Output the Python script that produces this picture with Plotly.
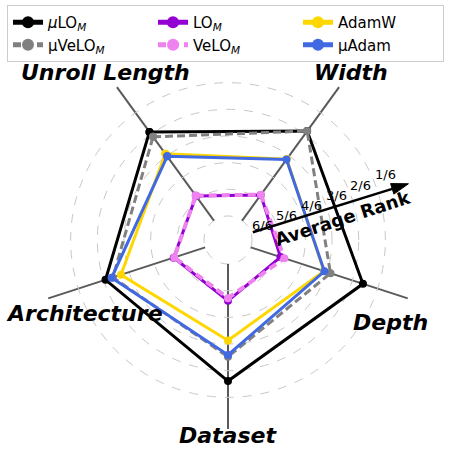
import math
import plotly.graph_objects as go

# ---- data (average rank, 1 = best) ----
categories = ["Unroll Length", "Width", "Depth", "Dataset", "Architecture"]
series_names = ["<i>μ</i>LO<sub><i>M</i></sub>", "μVeLO<sub><i>M</i></sub>", "LO<sub><i>M</i></sub>",
                "VeLO<sub><i>M</i></sub>", "AdamW", "μAdam"]
mu_lo = [1.89, 1.85, 1.58, 1.61, 2.07]
mu_velo = [2.12, 1.85, 2.86, 2.52, 2.36]
lo = [4.86, 4.81, 4.83, 4.62, 4.76]
velo = [4.84, 4.80, 4.68, 4.72, 4.78]
adamw = [2.90, 3.15, 3.12, 3.13, 2.68]
mu_adam = [3.02, 3.17, 3.10, 2.59, 2.31]
rank_ticks = [6, 5, 4, 3, 2, 1]
rank_labels = ["6/6", "5/6", "4/6", "3/6", "2/6", "1/6"]

# ---- geometry (pixels) ----
W, H = 454, 462
CX, CY = 228, 240
R_HOLE, STEP, R_OUT = 24, 26.67, 189
R_MAX = 1 + (R_OUT - R_HOLE) / STEP


def to_r(rank):
    return 7 - rank


def paper(x, y):
    return x / W, 1 - y / H


def polar_px(angle_deg, r_px):
    a = math.radians(angle_deg)
    return CX + r_px * math.cos(a), CY - r_px * math.sin(a)


styles = [
    dict(color="black", width=3, dash="solid", rank=1),
    dict(color="gray", width=3, dash="8px,4px", rank=4),
    dict(color="#9400D3", width=3, dash="solid", rank=2),
    dict(color="violet", width=4, dash="8px,5px", rank=5),
    dict(color="gold", width=3, dash="solid", rank=3),
    dict(color="royalblue", width=3, dash="solid", rank=6),
]
values = [mu_lo, mu_velo, lo, velo, adamw, mu_adam]

fig = go.Figure()
for name, vals, st in zip(series_names, values, styles):
    fig.add_trace(go.Scatterpolar(
        r=[to_r(v) for v in vals + vals[:1]],
        theta=categories + categories[:1],
        mode="lines+markers",
        name=name,
        legendrank=st["rank"],
        line=dict(color=st["color"], width=st["width"], dash=st["dash"]),
        marker=dict(color=st["color"], size=8),
    ))


def label(x_px, y_px, text, size, angle=0):
    x, y = paper(x_px, y_px)
    return dict(x=x, y=y, xref="paper", yref="paper", xanchor="center", yanchor="middle",
                text=text, showarrow=False, textangle=angle, font=dict(size=size, color="black"))


# ---- rank tick labels along 22.5 deg ----
annotations = []
for t, lab in zip(rank_ticks, rank_labels):
    r_px = R_HOLE + (to_r(t) - 1) * STEP + 13
    annotations.append(label(*polar_px(22.5, r_px), lab, 13))

# axis titles
label_pos = {"Unroll Length": (105, 72), "Width": (351, 72), "Depth": (390, 322),
             "Dataset": (228, 435), "Architecture": (84, 313)}
for cat in categories:
    annotations.append(label(*label_pos[cat], "<b><i>%s</i></b>" % cat, 22))

annotations.append(label(342, 218, "<b>Average Rank</b>", 18, -18))

# ---- arrow ----
ang = 17.3
x0, y0 = polar_px(ang, 26)
x1, y1 = polar_px(ang, 172)
xt, yt = polar_px(ang, 189)
a = math.radians(ang)
nx, ny = math.sin(a) * 5.5, math.cos(a) * 5.5
p0 = paper(x0, y0)
p1 = paper(x1, y1)
hx0, hy0 = paper(CX - R_HOLE, CY + R_HOLE)
hx1, hy1 = paper(CX + R_HOLE, CY - R_HOLE)
shapes = [
    dict(type="circle", xref="paper", yref="paper", x0=hx0, y0=hy0, x1=hx1, y1=hy1,
         line=dict(color="#c8c8c8", width=1, dash="dash"), layer="below"),
    dict(type="line", xref="paper", yref="paper", x0=p0[0], y0=p0[1], x1=p1[0], y1=p1[1],
         line=dict(color="black", width=2.5)),
    dict(type="path", xref="paper", yref="paper",
         path="M %f,%f L %f,%f L %f,%f Z" % (*paper(xt, yt), *paper(x1 + nx, y1 + ny), *paper(x1 - nx, y1 - ny)),
         fillcolor="black", line=dict(color="black", width=1)),
]

dx0, dy0 = paper(CX - R_OUT, CY + R_OUT)
dx1, dy1 = paper(CX + R_OUT, CY - R_OUT)

fig.update_layout(
    width=W, height=H,
    margin=dict(l=0, r=0, t=0, b=0, autoexpand=False),
    paper_bgcolor="white",
    font=dict(family="DejaVu Sans", color="black"),
    polar=dict(
        domain=dict(x=[dx0, dx1], y=[dy0, dy1]),
        hole=R_HOLE / R_OUT,
        bgcolor="rgba(0,0,0,0)",
        radialaxis=dict(range=[1, R_MAX], tickvals=[to_r(t) for t in rank_ticks],
                        showticklabels=False, ticks="", showline=False,
                        gridcolor="#c8c8c8", griddash="dash", gridwidth=1),
        angularaxis=dict(categoryarray=["Width", "Depth", "Dataset", "Architecture", "Unroll Length"],
                         type="category", direction="clockwise", rotation=54,
                         showticklabels=False, ticks="", showline=False,
                         gridcolor="#5a5a5a", gridwidth=1.5),
    ),
    legend=dict(orientation="h", x=7 / W, y=1 - 5 / H, xanchor="left", yanchor="top",
                entrywidth=100, entrywidthmode="pixels", itemsizing="constant",
                bordercolor="#cccccc", borderwidth=1, bgcolor="white",
                font=dict(size=15, family="DejaVu Sans")),
    annotations=annotations,
    shapes=shapes,
)

fig.write_html("out.html", config={"displayModeBar": False},
               post_script="document.body.style.margin='0';")
